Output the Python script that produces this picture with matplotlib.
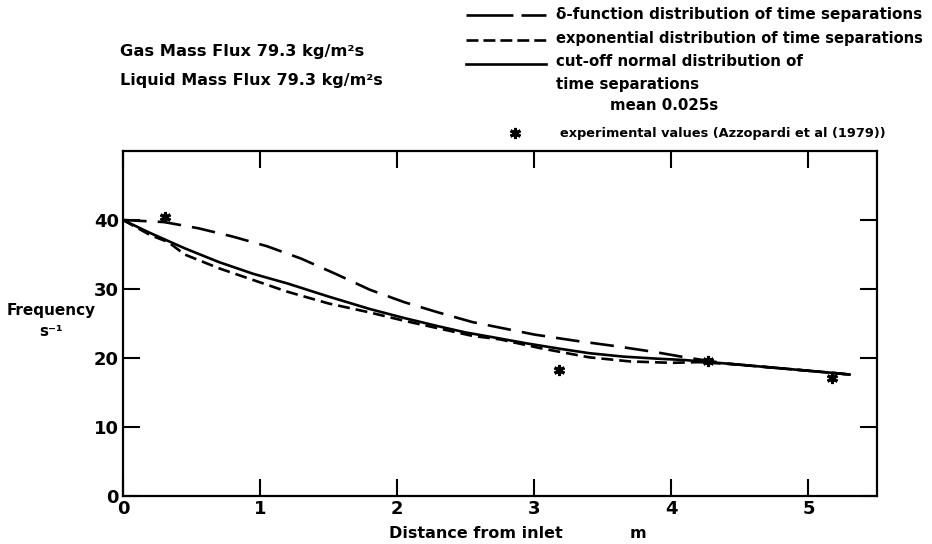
import matplotlib
matplotlib.use("Agg")
import matplotlib.pyplot as plt
from matplotlib.lines import Line2D

plt.rcParams['font.family'] = ['DejaVu Sans']
plt.rcParams['lines.scale_dashes'] = False

# ---------------- data ----------------
dist_delta = [0, 0.3, 0.55, 0.8, 1.05, 1.3, 1.55, 1.8, 2.05, 2.3, 2.55, 2.75,
              3.0, 3.3, 3.6, 3.9, 4.1, 4.4, 4.8, 5.2, 5.3]
freq_delta = [40, 39.7, 38.8, 37.6, 36.2, 34.4, 32.2, 29.9, 28.1, 26.6, 25.2, 24.4,
              23.4, 22.5, 21.7, 20.8, 20.1, 19.2, 18.5, 17.8, 17.6]

dist_exp = [0, 0.2, 0.33, 0.45, 0.7, 0.95, 1.2, 1.5, 1.8, 2.05, 2.3, 2.55, 2.75,
            3.05, 3.4, 3.7, 4.0, 4.2, 4.45, 4.8, 5.2, 5.3]
freq_exp = [40, 37.8, 36.8, 35.0, 33.0, 31.3, 29.6, 27.9, 26.6, 25.4, 24.3, 23.2, 22.7,
            21.4, 20.1, 19.5, 19.3, 19.4, 19.1, 18.5, 17.8, 17.6]

dist_norm = [0, 0.2, 0.45, 0.7, 0.95, 1.2, 1.5, 1.8, 2.05, 2.3, 2.5, 2.7, 2.95,
             3.2, 3.4, 3.65, 3.9, 4.1, 4.4, 4.8, 5.2, 5.3]
freq_norm = [40, 38.1, 35.9, 33.9, 32.2, 30.8, 28.9, 27.1, 25.8, 24.6, 23.7, 23.0, 22.1,
             21.3, 20.7, 20.2, 19.9, 19.7, 19.2, 18.5, 17.8, 17.6]

dist_exp_pts = [0.31, 3.18, 4.27, 5.17]
freq_exp_pts = [40.4, 18.3, 19.6, 17.1]

x_ticks = [0, 1, 2, 3, 4, 5]
y_ticks = [0, 10, 20, 30, 40]

label_delta = "δ-function distribution of time separations"
label_exp = "exponential distribution of time separations"
label_norm_1 = "cut-off normal distribution of"
label_norm_2 = "time separations"
label_mean = "mean 0.025s"
label_pts = "experimental values (Azzopardi et al (1979))"

# ---------------- figure ----------------
W, H = 932, 544
fig = plt.figure(figsize=(W / 100, H / 100), dpi=100)
ax = fig.add_axes([123 / W, 1 - 496 / H, (877 - 123) / W, (496 - 151) / H])

def fx(px):
    return px / W

def fy(py):
    return 1 - py / H

LW = 1.9
DASH_LONG = (0, (17, 8))
DASH_SHORT = (0, (8.6, 4.3))

ax.plot(dist_delta, freq_delta, color='black', lw=LW, linestyle=DASH_LONG)
ax.plot(dist_exp, freq_exp, color='black', lw=LW, linestyle=DASH_SHORT)
ax.plot(dist_norm, freq_norm, color='black', lw=LW, linestyle='-')
ax.plot(dist_exp_pts, freq_exp_pts, linestyle='none', marker=(6, 2, 0),
        markersize=8, markeredgewidth=2.2, color='black')

ax.set_xlim(0, 5.5)
ax.set_ylim(0, 50)
ax.set_xticks(x_ticks)
ax.set_yticks(y_ticks)
ax.set_xticklabels([str(t) for t in x_ticks])
ax.set_yticklabels([str(t) for t in y_ticks])
ax.tick_params(direction='in', length=12, width=1.5, top=True, right=True,
               labelsize=13, pad=3)
for lab in ax.get_xticklabels() + ax.get_yticklabels():
    lab.set_fontweight('bold')
for s in ax.spines.values():
    s.set_linewidth(1.6)

def ftext(px, py, s, size=11, ha='left', va='center'):
    fig.text(fx(px), fy(py), s, ha=ha, va=va, fontsize=size,
             fontweight='bold', color='black')

# x label
ftext(476, 533, "Distance from inlet", size=11.5, ha='center')
ftext(638, 533, "m", size=11.5, ha='center')

# y label
ftext(51, 310, "Frequency", ha='center')
ftext(51, 332, "s⁻¹", ha='center')

# header texts
ftext(120, 56, "Gas Mass Flux 79.3 kg/m²s", size=11.7, va='baseline')
ftext(120, 85, "Liquid Mass Flux 79.3 kg/m²s", size=11.5, va='baseline')

# legend (manual)
fig.add_artist(Line2D([fx(466), fx(546)], [fy(15), fy(15)], transform=fig.transFigure,
                      color='black', lw=LW, linestyle=(0, (33.8, 5.8))))
fig.add_artist(Line2D([fx(466), fx(546)], [fy(40), fy(40)], transform=fig.transFigure,
                      color='black', lw=LW, linestyle=(0, (8.6, 3.6))))
fig.add_artist(Line2D([fx(466), fx(546)], [fy(64), fy(64)], transform=fig.transFigure,
                      color='black', lw=LW, linestyle='-'))
fig.add_artist(Line2D([fx(515)], [fy(133)], transform=fig.transFigure,
                      linestyle='none', marker=(6, 2, 0), markersize=8,
                      markeredgewidth=2.2, color='black'))

ftext(556, 15, label_delta, size=11)
ftext(556, 39, label_exp, size=10.5)
ftext(556, 62, label_norm_1, size=10.8)
ftext(556, 85, label_norm_2, size=10.8)
ftext(610, 106, label_mean, size=10.8)
ftext(560, 133, label_pts, size=9.3)

fig.savefig("out.png", dpi=100)
